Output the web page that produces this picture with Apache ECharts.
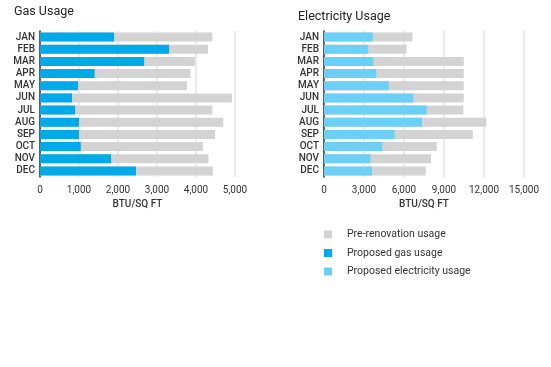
<!DOCTYPE html>
<html><head><meta charset="utf-8">
<script src="https://cdn.jsdelivr.net/npm/echarts@6/dist/echarts.min.js"></script>
<style>html,body{margin:0;padding:0;background:#fff}#c{width:551px;height:367px}</style>
</head><body><div id="c"></div>
<script>
const months = ['JAN','FEB','MAR','APR','MAY','JUN','JUL','AUG','SEP','OCT','NOV','DEC'];
const gasPre = [4420, 4310, 3970, 3860, 3770, 4920, 4420, 4700, 4490, 4180, 4320, 4430];
const gasProposed = [1900, 3310, 2670, 1400, 975, 820, 900, 1000, 1000, 1045, 1820, 2460];
const elecPre = [6640, 6190, 10480, 10480, 10480, 10480, 10450, 12170, 11160, 8460, 8030, 7630];
const elecProposed = [3660, 3310, 3710, 3910, 4850, 6690, 7700, 7350, 5300, 4370, 3490, 3590];
const gasTicks = {min: 0, max: 5000, interval: 1000};
const elecTicks = {min: 0, max: 15000, interval: 3000};

const FONT = 'Roboto';
const gray = '#d3d3d3', gasBlue = '#00a9e8', elecBlue = '#6ccff6';
const chart = echarts.init(document.getElementById('c'), null, {renderer: 'canvas'});
function xAx(idx, t) {
  return {gridIndex: idx, type: 'value', min: t.min, max: t.max, interval: t.interval,
    name: 'BTU/SQ FT', nameLocation: 'middle', nameGap: 22,
    nameTextStyle: {fontFamily: FONT, fontSize: 10, color: '#333', fontWeight: 500},
    axisLine: {show: false}, axisTick: {show: false},
    axisLabel: {fontFamily: FONT, fontSize: 10, color: '#333', margin: 8,
      formatter: v => v.toLocaleString('en-US')},
    splitLine: {lineStyle: {color: '#e3e3e3', width: 1.5}}};
}
function yAx(idx) {
  return {gridIndex: idx, type: 'category', data: months, inverse: true,
    axisLine: {lineStyle: {color: '#333', width: 1.5}}, axisTick: {show: false},
    axisLabel: {interval: 0, fontFamily: FONT, fontSize: 10, color: '#333', fontWeight: 500, margin: 5}};
}
chart.setOption({
  animation: false,
  title: [
    {text: 'Gas Usage', left: 9, top: 0, textStyle: {fontFamily: FONT, fontSize: 12.5, fontWeight: 'normal', color: '#222'}},
    {text: 'Electricity Usage', left: 293, top: 5, textStyle: {fontFamily: FONT, fontSize: 12.5, fontWeight: 'normal', color: '#222'}}
  ],
  grid: [
    {left: 40, width: 195, top: 31, height: 146},
    {left: 324, width: 200, top: 31, height: 146}
  ],
  xAxis: [xAx(0, gasTicks), xAx(1, elecTicks)],
  yAxis: [yAx(0), yAx(1)],
  legend: {orient: 'vertical', left: 319, top: 224, itemWidth: 8, itemHeight: 8, itemGap: 7.5,
    icon: 'rect',
    textStyle: {fontFamily: FONT, fontSize: 10.5, color: '#333', padding: [0, 0, 0, 10]},
    data: ['Pre-renovation usage', 'Proposed gas usage', 'Proposed electricity usage']},
  series: [
    {name: 'Pre-renovation usage', type: 'bar', xAxisIndex: 0, yAxisIndex: 0, data: gasPre,
      barWidth: 9, itemStyle: {color: gray}, z: 1},
    {name: 'Proposed gas usage', type: 'bar', xAxisIndex: 0, yAxisIndex: 0, data: gasProposed,
      barWidth: 9, barGap: '-100%', itemStyle: {color: gasBlue}, z: 2},
    {name: 'Pre-renovation usage', type: 'bar', xAxisIndex: 1, yAxisIndex: 1, data: elecPre,
      barWidth: 9, itemStyle: {color: gray}, z: 1},
    {name: 'Proposed electricity usage', type: 'bar', xAxisIndex: 1, yAxisIndex: 1, data: elecProposed,
      barWidth: 9, barGap: '-100%', itemStyle: {color: elecBlue}, z: 2}
  ]
});
</script></body></html>
